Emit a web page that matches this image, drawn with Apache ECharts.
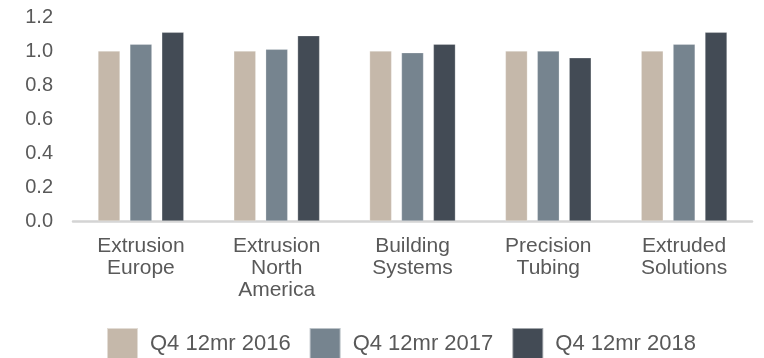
<!DOCTYPE html>
<html>
<head>
<meta charset="utf-8">
<script src="https://cdn.jsdelivr.net/npm/echarts@6/dist/echarts.min.js"></script>
<style>
  html, body { margin: 0; padding: 0; background: #ffffff; }
  #chart { width: 764px; height: 358px; }
</style>
</head>
<body>
<div id="chart"></div>
<script>
// Segment names (line breaks as shown under the axis)
const categories = [
  'Extrusion\nEurope',
  'Extrusion\nNorth\nAmerica',
  'Building\nSystems',
  'Precision\nTubing',
  'Extruded\nSolutions'
];

// Indexed values per period
const q4_2016 = [1.00, 1.00, 1.00, 1.00, 1.00];
const q4_2017 = [1.04, 1.01, 0.99, 1.00, 1.04];
const q4_2018 = [1.11, 1.09, 1.04, 0.96, 1.11];

const seriesNames = ['Q4 12mr 2016', 'Q4 12mr 2017', 'Q4 12mr 2018'];
const yTicks = { min: 0, max: 1.2, interval: 0.2 };

const colors = ['#c5b8aa', '#76848f', '#434b55'];
const textColor = '#595959';
const fontFamily = "'Liberation Sans', Arial, sans-serif";

const chart = echarts.init(document.getElementById('chart'), null, { renderer: 'canvas' });

const makeBar = (name, data, color) => ({
  name: name,
  type: 'bar',
  data: data,
  barWidth: 22,
  barGap: '45%',
  itemStyle: { color: color, borderColor: 'rgba(255,255,255,0.5)', borderWidth: 0.5 }
});

chart.setOption({
  animation: false,
  color: colors,
  grid: { left: 73, right: 12, top: 17, bottom: 137, containLabel: false },
  legend: {
    data: seriesNames,
    left: 106,
    top: 327,
    padding: 0,
    itemWidth: 31,
    itemHeight: 31,
    itemGap: 18,
    icon: 'rect',
    textStyle: { color: textColor, fontSize: 22, fontFamily: fontFamily, padding: [0, 0, 0, 7] }
  },
  xAxis: {
    type: 'category',
    data: categories,
    axisLine: { lineStyle: { color: '#d4d4d4', width: 2.5 } },
    axisTick: { show: false },
    axisLabel: {
      color: textColor,
      fontSize: 21,
      fontFamily: fontFamily,
      lineHeight: 22,
      margin: 14,
      interval: 0
    }
  },
  yAxis: {
    type: 'value',
    min: yTicks.min,
    max: yTicks.max,
    interval: yTicks.interval,
    splitLine: { show: false },
    axisLine: { show: false },
    axisTick: { show: false },
    axisLabel: {
      color: textColor,
      fontSize: 20,
      fontFamily: fontFamily,
      margin: 20,
      formatter: v => v.toFixed(1)
    }
  },
  series: [
    makeBar(seriesNames[0], q4_2016, colors[0]),
    makeBar(seriesNames[1], q4_2017, colors[1]),
    makeBar(seriesNames[2], q4_2018, colors[2])
  ]
});
</script>
</body>
</html>
